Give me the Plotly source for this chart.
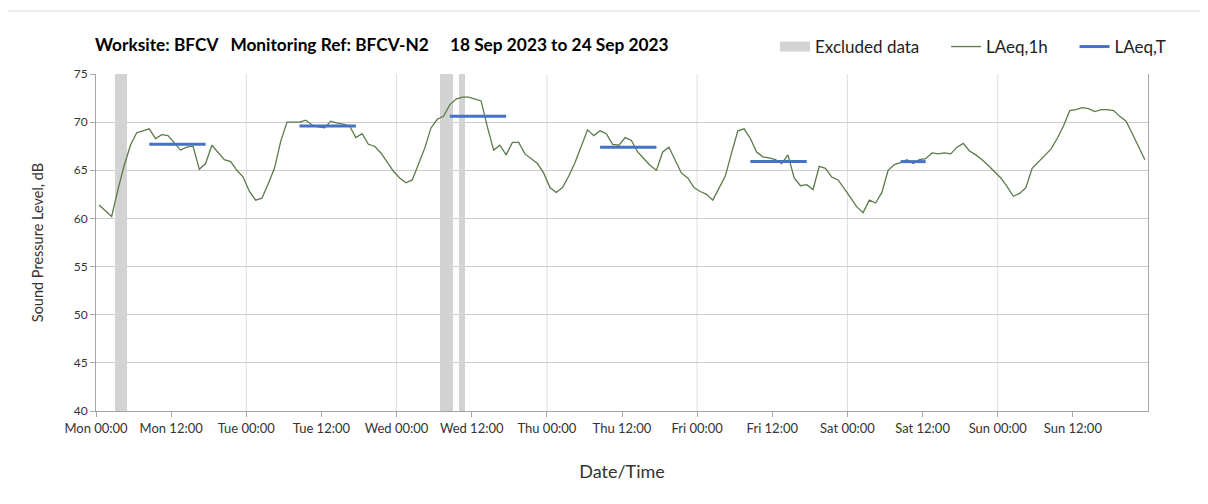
import pandas as pd
import plotly.graph_objects as go

# ---------------- data ----------------
start = pd.Timestamp("2023-09-18 00:00")

# Hourly LAeq,1h values (dB), Mon 00:00 .. Sun 23:00
laeq_1h = [
    61.4, 60.8, 60.2, 63.0, 65.5, 67.6, 68.9, 69.1, 69.3, 68.3, 68.7, 68.6,
    67.9, 67.1, 67.4, 67.5, 65.1, 65.7, 67.6, 66.9, 66.1, 65.9, 65.0, 64.3,
    62.8, 61.9, 62.1, 63.6, 65.2, 68.0, 70.0, 70.0, 70.0, 70.2, 69.7, 69.5,
    69.4, 70.1, 69.9, 69.8, 69.6, 68.4, 68.8, 67.7, 67.5, 66.8, 65.9, 64.9,
    64.2, 63.7, 64.0, 65.6, 67.3, 69.4, 70.3, 70.6, 71.8, 72.4, 72.6, 72.6,
    72.4, 72.2, 69.5, 67.1, 67.6, 66.6, 67.9, 67.9, 66.7, 66.2, 65.7, 64.7,
    63.2, 62.7, 63.2, 64.4, 65.8, 67.5, 69.2, 68.6, 69.1, 68.8, 67.7, 67.6,
    68.4, 68.1, 66.9, 66.2, 65.5, 65.0, 66.9, 67.4, 66.1, 64.7, 64.2, 63.2,
    62.8, 62.5, 61.9, 63.1, 64.4, 66.8, 69.1, 69.3, 68.3, 66.9, 66.4, 66.3,
    66.1, 65.7, 66.6, 64.2, 63.4, 63.5, 63.0, 65.4, 65.2, 64.3, 64.0, 63.1,
    62.1, 61.2, 60.6, 61.9, 61.6, 62.7, 65.0, 65.6, 65.8, 66.1, 65.7, 66.1,
    66.2, 66.8, 66.7, 66.8, 66.7, 67.4, 67.8, 67.0, 66.6, 66.1, 65.5, 64.8,
    64.2, 63.3, 62.3, 62.6, 63.2, 65.2, 65.9, 66.5, 67.2, 68.3, 69.6, 71.2,
    71.3, 71.5, 71.4, 71.1, 71.3, 71.3, 71.2, 70.6, 70.1, 68.8, 67.4, 66.1,
]

# Excluded data periods (hours from Mon 00:00)
excl_start_h = [3, 55, 58]
excl_end_h = [5, 57, 59]

# LAeq,T daytime periods (hours from Mon 00:00, hour-centre points) and levels
laeqT_start_h = [8.5, 32.5, 56.5, 80.5, 104.5, 128.5]
laeqT_end_h = [17.5, 41.5, 65.5, 89.5, 113.5, 132.5]
laeqT_val = [67.7, 69.6, 70.6, 67.4, 65.9, 65.9]

title_text = ("Worksite: BFCV\u00a0\u00a0\u00a0Monitoring Ref: BFCV-N2"
              "\u00a0\u00a0\u00a0\u00a0\u00a018 Sep 2023 to 24 Sep 2023")

# ---------------- build ----------------
hour = pd.Timedelta(hours=1)
times = [start + (i + 0.5) * hour for i in range(len(laeq_1h))]

excl_x = [start + (s + e) / 2 * hour for s, e in zip(excl_start_h, excl_end_h)]
excl_w = [(e - s) * 3600 * 1000 for s, e in zip(excl_start_h, excl_end_h)]

tx, ty = [], []
for s, e, v in zip(laeqT_start_h, laeqT_end_h, laeqT_val):
    tx += [start + s * hour, start + e * hour, None]
    ty += [v, v, None]

FONT = "Lato, 'Open Sans', sans-serif"
GREY = "#d3d3d3"
PAD = "\u00a0" * 5
OFF = 8  # page body margin offset

fig = go.Figure()
fig.add_trace(go.Bar(
    x=excl_x, y=[35] * len(excl_x), base=[40] * len(excl_x), width=excl_w,
    marker=dict(color=GREY, line=dict(width=0)),
    name="Excluded data", hoverinfo="skip", showlegend=False,
))
# legend swatch for excluded data (wide grey rectangle)
fig.add_trace(go.Scatter(
    x=[None], y=[None], mode="lines", name="Excluded data" + PAD,
    line=dict(color=GREY, width=12),
))
fig.add_trace(go.Scatter(
    x=times, y=laeq_1h, mode="lines", name="LAeq,1h" + PAD,
    line=dict(color="#5b7a4a", width=1.3),
))
fig.add_trace(go.Scatter(
    x=tx, y=ty, mode="lines", name="LAeq,T",
    line=dict(color="#4472c4", width=3),
))

# daily vertical gridlines
for d in pd.date_range(start + pd.Timedelta(days=1), periods=6, freq="D"):
    fig.add_shape(type="line", xref="x", yref="y", x0=d, x1=d, y0=40, y1=75,
                  line=dict(color="#dedede", width=1), layer="below")

# outer chart frame
fig.add_shape(type="rect", xref="paper", yref="paper",
              x0=(5 - 96) / 1052, x1=(1215 - 96) / 1052,
              y0=1 - (515 - 74) / 337, y1=1 - (11 - 74) / 337,
              line=dict(color="#d9d9d9", width=1), fillcolor="rgba(0,0,0,0)")

tickvals = pd.date_range(start, periods=14, freq="12h")

fig.update_layout(
    width=1208, height=504,
    margin=dict(l=96 - OFF, r=60 + OFF, t=74 - OFF, b=93 + OFF, autoexpand=False),
    paper_bgcolor="white", plot_bgcolor="white",
    font=dict(family=FONT, size=12, color="#333333"),
    bargap=0,
    title=dict(text="<b>" + title_text + "</b>", x=(95 - OFF) / 1208, xref="container",
               xanchor="left", y=1 - 37 / 504, yref="container", yanchor="middle",
               font=dict(family=FONT, size=17.3, color="#000000")),
    legend=dict(orientation="h", x=1163 / 1208, xref="container", xanchor="right",
                y=1 - 39 / 504, yref="container", yanchor="middle",
                font=dict(family=FONT, size=17, color="#222222"),
                bgcolor="rgba(0,0,0,0)", traceorder="normal", itemwidth=30),
    showlegend=True,
)
fig.update_xaxes(
    type="date", range=[start, start + pd.Timedelta(days=7)],
    tickmode="array", tickvals=tickvals, tickformat="%a %H:%M",
    showgrid=False, zeroline=False, automargin=False,
    showline=True, linecolor="#a6a6a6", linewidth=1,
    ticks="outside", ticklen=5, tickcolor="#a6a6a6",
    tickfont=dict(family=FONT, size=13, color="#333333"),
    title=dict(text="Date/Time", standoff=30,
               font=dict(family=FONT, size=18, color="#333333")),
)
fig.update_yaxes(
    range=[40, 75], dtick=5, tick0=40, automargin=False,
    showgrid=True, gridcolor="#cccccc", gridwidth=1, zeroline=False,
    showline=True, linecolor="#a6a6a6", linewidth=1, mirror=True,
    ticks="outside", ticklen=5, tickcolor="#a6a6a6",
    tickfont=dict(family=FONT, size=12, color="#333333"),
    title=dict(text="Sound Pressure Level, dB", standoff=26,
               font=dict(family=FONT, size=14.5, color="#333333")),
)

fig.write_html("out.html")
